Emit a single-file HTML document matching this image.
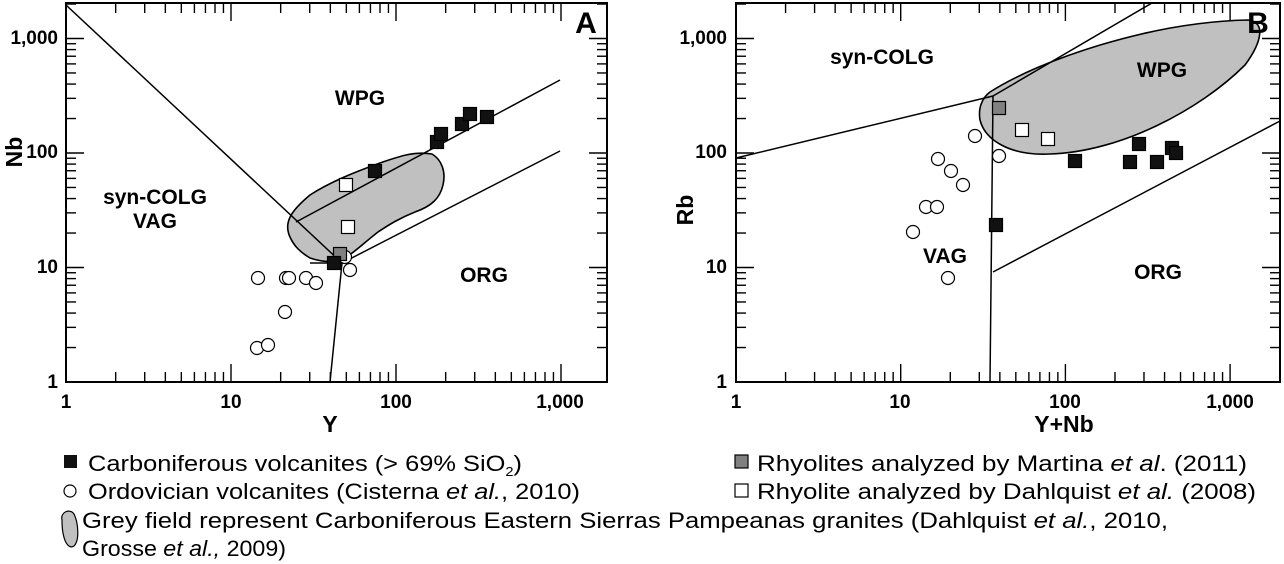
<!DOCTYPE html>
<html><head><meta charset="utf-8"><style>
html,body{margin:0;padding:0;background:#fff;}
svg{display:block;font-family:"Liberation Sans",Arial,sans-serif;}
.t{font-weight:bold;font-size:19px;}
.lg{font-size:22.5px;}
</style></head><body>
<svg id="s" width="1284" height="564" viewBox="0 0 1284 564">
<!-- Panel A -->
<path d="M290,237 C283,222 292,210 310,195 C330,182 355,172 380,163 C400,156 415,151 432,154 C442,160 446,172 443,185 C440,198 432,206 415,212 C400,218 390,224 378,232 C365,242 355,252 345,258 C335,263 322,262 310,258 C300,252 294,246 290,237 Z" fill="#c0c0c0" stroke="#000" stroke-width="1.6"/>
<g stroke="#000" stroke-width="1.5" fill="none">
<line x1="66" y1="5" x2="342" y2="263"/>
<line x1="342" y1="263" x2="330" y2="382"/>
<line x1="342" y1="263" x2="560" y2="151"/>
<line x1="296" y1="222" x2="560" y2="80"/>
<line x1="310" y1="263" x2="345" y2="263"/>
</g>
<!-- Panel B -->
<path d="M990,92 C1040,60 1150,22 1248,20 C1266,22 1262,42 1245,65 C1200,110 1120,152 1050,154 C1010,156 985,140 980,120 C978,108 982,98 990,92 Z" fill="#c0c0c0" stroke="#000" stroke-width="1.6"/>
<g stroke="#000" stroke-width="1.5" fill="none">
<line x1="736" y1="158" x2="993" y2="96"/>
<line x1="993" y1="96" x2="1152" y2="3"/>
<line x1="993" y1="96" x2="990" y2="382"/>
<line x1="993" y1="272" x2="1280" y2="121"/>
</g>
<g id="ax"></g>
<g id="mk" stroke="#000" stroke-width="1.2"></g>
<!-- labels -->
<g class="t">
<text x="66" y="408" text-anchor="middle">1</text>
<text x="231" y="408" text-anchor="middle">10</text>
<text x="396" y="408" text-anchor="middle">100</text>
<text x="560" y="408" text-anchor="middle">1,000</text>
<text x="58" y="388" text-anchor="end">1</text>
<text x="58" y="273" text-anchor="end">10</text>
<text x="58" y="158" text-anchor="end">100</text>
<text x="58" y="44" text-anchor="end">1,000</text>
<text x="736" y="408" text-anchor="middle">1</text>
<text x="900" y="408" text-anchor="middle">10</text>
<text x="1065" y="408" text-anchor="middle">100</text>
<text x="1230" y="408" text-anchor="middle">1,000</text>
<text x="727" y="388" text-anchor="end">1</text>
<text x="727" y="273" text-anchor="end">10</text>
<text x="727" y="158" text-anchor="end">100</text>
<text x="727" y="44" text-anchor="end">1,000</text>
</g>
<g font-weight="bold" font-size="21">
<text x="330" y="432" text-anchor="middle" font-size="23">Y</text>
<text x="1064" y="432" text-anchor="middle" font-size="23">Y+Nb</text>
<text transform="translate(22,152) rotate(-90)" text-anchor="middle" font-size="23">Nb</text>
<text transform="translate(693,210) rotate(-90)" text-anchor="middle" font-size="23">Rb</text>
<text x="360" y="105" text-anchor="middle">WPG</text>
<text x="155" y="204" text-anchor="middle">syn-COLG</text>
<text x="155" y="228" text-anchor="middle">VAG</text>
<text x="484" y="282" text-anchor="middle">ORG</text>
<text x="882" y="64" text-anchor="middle">syn-COLG</text>
<text x="1162" y="77" text-anchor="middle">WPG</text>
<text x="945" y="263" text-anchor="middle">VAG</text>
<text x="1158" y="279" text-anchor="middle">ORG</text>
<text x="586" y="33" text-anchor="middle" font-size="30">A</text>
<text x="1258" y="33" text-anchor="middle" font-size="30">B</text>
</g>
<!-- legend -->
<rect x="64" y="455" width="13" height="13" fill="#111"/>
<text class="lg" x="88" y="471" textLength="434" lengthAdjust="spacingAndGlyphs">Carboniferous volcanites (&gt; 69% SiO<tspan font-size="13" dy="5">2</tspan><tspan dy="-5">)</tspan></text>
<circle cx="70" cy="491" r="6" fill="#fff" stroke="#000" stroke-width="1.2"/>
<text class="lg" x="88" y="499" textLength="492" lengthAdjust="spacingAndGlyphs">Ordovician volcanites (Cisterna <tspan font-style="italic">et al.</tspan>, 2010)</text>
<path d="M62,520 C60,512 70,508 74,514 C78,522 80,540 74,546 C68,550 62,540 62,520 Z" fill="#c0c0c0" stroke="#000" stroke-width="1.2"/>
<text class="lg" x="82" y="528" textLength="1086" lengthAdjust="spacingAndGlyphs">Grey field represent Carboniferous Eastern Sierras Pampeanas granites (Dahlquist <tspan font-style="italic">et al.</tspan>, 2010,</text>
<text class="lg" x="82" y="556" textLength="204" lengthAdjust="spacingAndGlyphs">Grosse <tspan font-style="italic">et al.,</tspan> 2009)</text>
<rect x="735" y="455" width="13" height="13" fill="#808080" stroke="#000" stroke-width="1.2"/>
<text class="lg" x="757" y="471" textLength="490" lengthAdjust="spacingAndGlyphs">Rhyolites analyzed by Martina <tspan font-style="italic">et al</tspan>. (2011)</text>
<rect x="735" y="484" width="13" height="13" fill="#fff" stroke="#000" stroke-width="1.2"/>
<text class="lg" x="757" y="499" textLength="499" lengthAdjust="spacingAndGlyphs">Rhyolite analyzed by Dahlquist <tspan font-style="italic">et al.</tspan> (2008)</text>
</svg>
<script>
var NS="http://www.w3.org/2000/svg",ax=document.getElementById("ax"),mk=document.getElementById("mk");
function el(p,t,a){var e=document.createElementNS(NS,t);for(var k in a)e.setAttribute(k,a[k]);p.appendChild(e);return e;}
function panel(x0,x1,y0,y1,dx){
 var dy=114.5;
 el(ax,"rect",{x:x0,y:y0,width:x1-x0,height:y1-y0,fill:"none",stroke:"#000","stroke-width":2});
 for(var d=0;d<4;d++)for(var m=1;m<10;m++){
  var v=d+Math.log10(m);var X=x0+dx*v;var L=m==1?18:10;
  if(X<x1-1&&X>x0+1){
   el(ax,"line",{x1:X,x2:X,y1:y1,y2:y1-L,stroke:"#000","stroke-width":1.4});
   el(ax,"line",{x1:X,x2:X,y1:y0,y2:y0+L,stroke:"#000","stroke-width":1.4});}
  var Y=y1-dy*v;
  if(Y>y0+1&&Y<y1-1){
   el(ax,"line",{y1:Y,y2:Y,x1:x0,x2:x0+L,stroke:"#000","stroke-width":1.4});
   el(ax,"line",{y1:Y,y2:Y,x1:x1,x2:x1-L,stroke:"#000","stroke-width":1.4});}
 }
}
panel(66,607,3,382,165);panel(736,1280,3,382,164.7);
function sq(x,y,f){el(mk,"rect",{x:x-6.5,y:y-6.5,width:13,height:13,fill:f});}
function ci(x,y){el(mk,"circle",{cx:x,cy:y,r:6.5,fill:"#fff"});}
[[258,278],[257,348],[268,345],[286,278],[289,278],[306,278],[316,283],[285,312],[350,270],[345,257]].forEach(function(p){ci(p[0],p[1]);});
sq(340,254,"#808080");
[[334,263],[375,171],[437,142],[441,134],[462,124],[470,114],[487,117]].forEach(function(p){sq(p[0],p[1],"#111");});
sq(346,185,"#fff");sq(348,227,"#fff");
[[975,136],[938,159],[951,171],[963,185],[926,207],[937,207],[913,232],[948,278],[999,156]].forEach(function(p){ci(p[0],p[1]);});
sq(999,108,"#808080");sq(1022,130,"#fff");sq(1048,139,"#fff");
[[996,225],[1075,161],[1130,162],[1139,144],[1157,162],[1172,148],[1176,153]].forEach(function(p){sq(p[0],p[1],"#111");});
</script>
</body></html>
